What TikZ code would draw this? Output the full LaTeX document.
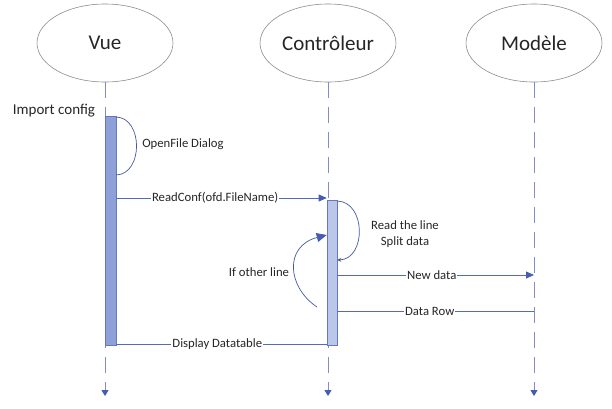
\documentclass[tikz,border=0pt]{standalone}
\usepackage{fontspec}
\setmainfont{Carlito}
\usetikzlibrary{arrows.meta,shapes.geometric}

\definecolor{lifeblue}{RGB}{132,140,198}
\definecolor{msgblue}{RGB}{84,106,186}
\definecolor{tipblue}{RGB}{70,92,178}
\definecolor{actdark}{RGB}{142,160,216}
\definecolor{actlight}{RGB}{186,198,234}
\definecolor{actedge}{RGB}{104,118,186}

\tikzset{
  actor/.style={ellipse, draw=black!45, line width=0.6pt, minimum width=136pt,
    minimum height=78pt, inner sep=0pt, text=black!85, font=\fontsize{21}{25}\selectfont},
  lifeline/.style={draw=lifeblue, line width=1pt, dash pattern=on 16pt off 9pt,
    -{Triangle[width=7pt,length=6pt,color=tipblue]}},
  actbox/.style={rectangle, draw=actedge, line width=0.6pt, minimum width=11pt, inner sep=0pt},
  msg/.style={draw=msgblue, line width=0.8pt},
  msgtip/.style={-{Triangle[width=7pt,length=8pt,color=tipblue]}},
  selfarc/.style={draw=msgblue!85!black, line width=0.7pt},
  msglabel/.style={fill=white, inner sep=1pt, text=black!85, font=\fontsize{12.7}{15}\selectfont},
  note/.style={inner sep=0pt, text=black!85, font=\fontsize{12.7}{16}\selectfont, align=center}
}

\begin{document}
\begin{tikzpicture}[x=1pt,y=-1pt]
\useasboundingbox (0,0) rectangle (612,408);

% Actors
\node[actor] (vue) at (105,43) {Vue};
\node[actor] (ctrl) at (328,43) {Contrôleur};
\node[actor] (model) at (534,43) {Modèle};

% Lifeline ends
\coordinate (vueend) at (105,396);
\coordinate (ctrlend) at (328,396);
\coordinate (modelend) at (534,396);

% Lifelines
\draw[lifeline] (vue) -- (vueend);
\draw[lifeline] (ctrl) -- (ctrlend);
\draw[lifeline] (model) -- (modelend);

% Activation boxes
\node[actbox, fill=actdark, minimum height=229pt] (vueact) at (110.5,230.5) {};
\node[actbox, fill=actlight, minimum width=10pt, minimum height=145pt] (ctrlact) at (332,272.5) {};

% Text Node
\node[inner sep=0pt, text=black!85, font=\fontsize{15}{18}\selectfont] (import) at (54,111) {Import config};

% Self call
\draw[selfarc] (vueact.east |- 0,117) .. controls +(27,1) and +(27,-1) .. (vueact.east |- 0,175);
\node[note] (dialog) at (183,144) {OpenFile Dialog};

% Message
\draw[msg,msgtip] (vueact.east |- 0,198) -- node[msglabel, pos=0.47] {ReadConf(ofd.FileName)} (ctrlact.west |- 0,198);

% Self call
\draw[selfarc, -{Stealth[length=4pt,width=4pt]}] (ctrlact.east |- 0,201) .. controls +(29,1) and +(29,-1) .. (ctrlact.east |- 0,260);
\node[note] (readline) at (405,234) {Read the line\\Split data};

% Loop
\coordinate (loopstart) at (317,307);
\draw[selfarc, -{Triangle[width=9pt,length=10pt,color=tipblue]}] (loopstart) .. controls (287,287) and (284,246) .. (ctrlact.west |- 0,235);
\node[note] (otherline) at (259,272) {If other line};

% Message
\draw[msg,msgtip] (ctrlact.east |- 0,275) -- node[msglabel, pos=0.48] {New data} (model |- 0,275);

% Message
\draw[msg] (model |- 0,311) -- node[msglabel, pos=0.53] {Data Row} (ctrlact.east |- 0,311);

% Message
\draw[msg] (ctrlact.west |- 0,344) -- node[msglabel, pos=0.52] {Display Datatable} (vueact.east |- 0,344);

\end{tikzpicture}
\end{document}
